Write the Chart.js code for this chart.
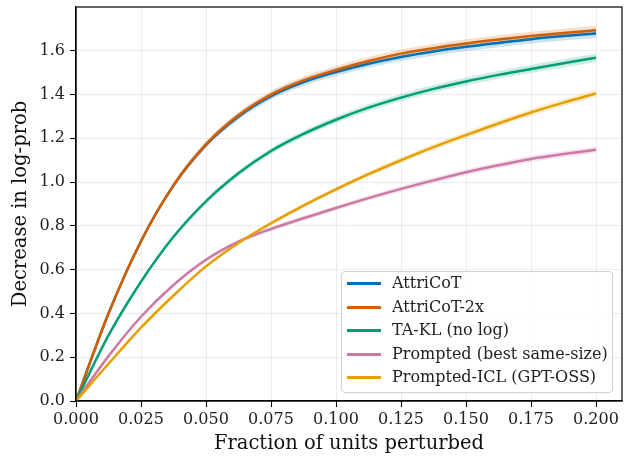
<!DOCTYPE html>
<html>
<head>
<meta charset="utf-8">
<script src="https://cdn.jsdelivr.net/npm/chart.js@4.4.1/dist/chart.umd.min.js"></script>
<style>
  body { margin: 0; background: #fff; }
  #wrap { position: relative; width: 632px; height: 459px; }
  #legend {
    position: absolute; left: 341px; top: 271px; width: 270px; height: 120px;
    border: 1px solid #d0d0d0; border-radius: 4px; background: rgba(255,255,255,0.8);
    font-family: "DejaVu Serif", serif; font-size: 16px; color: #222;
  }
  #legend .row { position: absolute; left: 0; height: 20px; line-height: 20px; white-space: nowrap; }
  #legend .hl { position: absolute; left: 5px; top: 9px; width: 34px; height: 3px; }
  #legend .tx { position: absolute; left: 50px; top: 0; }
</style>
</head>
<body>
<div id="wrap">
  <canvas id="chart" width="632" height="459"></canvas>
  <div id="legend"></div>
</div>
<script>
// fraction of units perturbed
const xs = [0, 0.0125, 0.025, 0.0375, 0.05, 0.0625, 0.075, 0.0875, 0.1, 0.1125, 0.125, 0.1375, 0.15, 0.1625, 0.175, 0.1875, 0.2];

// decrease in log-prob
const attricot    = [0, 0.40, 0.73, 0.985, 1.17, 1.30, 1.393, 1.457, 1.503, 1.541, 1.572, 1.597, 1.618, 1.636, 1.653, 1.667, 1.679];
const attricot2x  = [0, 0.40, 0.73, 0.985, 1.172, 1.305, 1.40, 1.465, 1.512, 1.553, 1.587, 1.612, 1.633, 1.651, 1.667, 1.681, 1.694];
const takl        = [0, 0.30, 0.545, 0.75, 0.912, 1.04, 1.142, 1.22, 1.285, 1.34, 1.386, 1.426, 1.46, 1.49, 1.517, 1.543, 1.568];
const prompted    = [0, 0.205, 0.385, 0.53, 0.645, 0.728, 0.786, 0.835, 0.882, 0.927, 0.969, 1.008, 1.045, 1.077, 1.106, 1.128, 1.148];
const promptedIcl = [0, 0.17, 0.335, 0.482, 0.615, 0.722, 0.812, 0.893, 0.967, 1.036, 1.10, 1.16, 1.215, 1.268, 1.318, 1.363, 1.405];

const xTicks = [0, 0.025, 0.05, 0.075, 0.1, 0.125, 0.15, 0.175, 0.2];
const yTicks = [0, 0.2, 0.4, 0.6, 0.8, 1.0, 1.2, 1.4, 1.6];

const series = [
  { label: "AttriCoT", values: attricot, color: "#0072B2", band: "rgba(0,114,178,0.2)", spread: 0.012 },
  { label: "AttriCoT-2x", values: attricot2x, color: "#D55E00", band: "rgba(213,94,0,0.2)", spread: 0.012 },
  { label: "TA-KL (no log)", values: takl, color: "#009E73", band: "rgba(0,158,115,0.2)", spread: 0.012 },
  { label: "Prompted (best same-size)", values: prompted, color: "#CC79A7", band: "rgba(204,121,167,0.2)", spread: 0.013 },
  { label: "Prompted-ICL (GPT-OSS)", values: promptedIcl, color: "#E69F00", band: "rgba(230,159,0,0.2)", spread: 0.012 },
];

const font = "DejaVu Serif";
const datasets = [];

// shaded bands (drawn underneath)
series.forEach((s, i) => {
  datasets.push({
    data: xs.map((x, k) => ({ x, y: s.values[k] * (1 + s.spread) })),
    borderWidth: 0, pointRadius: 0, fill: false,
    backgroundColor: s.band, cubicInterpolationMode: "monotone", order: 100 - i,
  });
  datasets.push({
    data: xs.map((x, k) => ({ x, y: s.values[k] * (1 - s.spread) })),
    borderWidth: 0, pointRadius: 0, fill: "-1",
    backgroundColor: s.band, cubicInterpolationMode: "monotone", order: 100 - i,
  });
});

// main lines, later series on top
series.forEach((s, i) => {
  datasets.push({
    label: s.label,
    data: xs.map((x, k) => ({ x, y: s.values[k] })),
    borderColor: s.color, borderWidth: 2.5, pointRadius: 0, fill: false,
    cubicInterpolationMode: "monotone", order: 10 - i,
  });
});

const frame = {
  id: "frame",
  afterDatasetsDraw(chart) {
    const a = chart.chartArea;
    const ctx = chart.ctx;
    ctx.save();
    ctx.strokeStyle = "#000";
    ctx.lineWidth = 1.2;
    ctx.strokeRect(a.left, a.top, a.right - a.left, a.bottom - a.top);
    ctx.restore();
  },
};

const gridOpts = { color: "rgba(176,176,176,0.3)", lineWidth: 0.8, tickColor: "#000", tickLength: 6, tickWidth: 1.1 };

new Chart(document.getElementById("chart"), {
  type: "line",
  data: { datasets },
  options: {
    responsive: false,
    animation: false,
    devicePixelRatio: 1,
    layout: { padding: { top: 7, right: 10, left: 0, bottom: 0 } },
    plugins: { legend: { display: false }, tooltip: { enabled: false } },
    scales: {
      x: {
        type: "linear", min: 0, max: 0.21,
        afterFit: (s) => { s.height = 58; s.paddingLeft = 0; s.paddingRight = 0; },
        afterBuildTicks: (s) => { s.ticks = xTicks.map((v) => ({ value: v })); },
        grid: gridOpts,
        border: { color: "#000", width: 1.2 },
        ticks: { color: "#222", padding: 3, font: { family: font, size: 16 }, maxRotation: 0, callback: (v) => Number(v).toFixed(3) },
        title: { display: true, text: "Fraction of units perturbed", color: "#111", font: { family: font, size: 19.5 }, padding: { top: 0, bottom: 3 } },
      },
      y: {
        type: "linear", min: 0, max: 1.8,
        afterFit: (s) => { s.width = 76; s.paddingTop = 0; s.paddingBottom = 0; },
        afterBuildTicks: (s) => { s.ticks = yTicks.map((v) => ({ value: v })); },
        grid: gridOpts,
        border: { color: "#000", width: 1.2 },
        ticks: { color: "#222", padding: 5, font: { family: font, size: 16 }, callback: (v) => Number(v).toFixed(1) },
        title: { display: true, text: "Decrease in log-prob", color: "#111", font: { family: font, size: 19.5 }, padding: { top: 9, bottom: 0 } },
      },
    },
  },
  plugins: [frame],
});

// legend inside the plot, bottom right
const legend = document.getElementById("legend");
const rowTops = [1, 25, 48, 72, 95];
series.forEach((s, i) => {
  const row = document.createElement("div");
  row.className = "row";
  row.style.top = rowTops[i] + "px";
  row.innerHTML = '<span class="hl" style="background:' + s.color + '"></span><span class="tx">' + s.label + "</span>";
  legend.appendChild(row);
});
</script>
</body>
</html>
